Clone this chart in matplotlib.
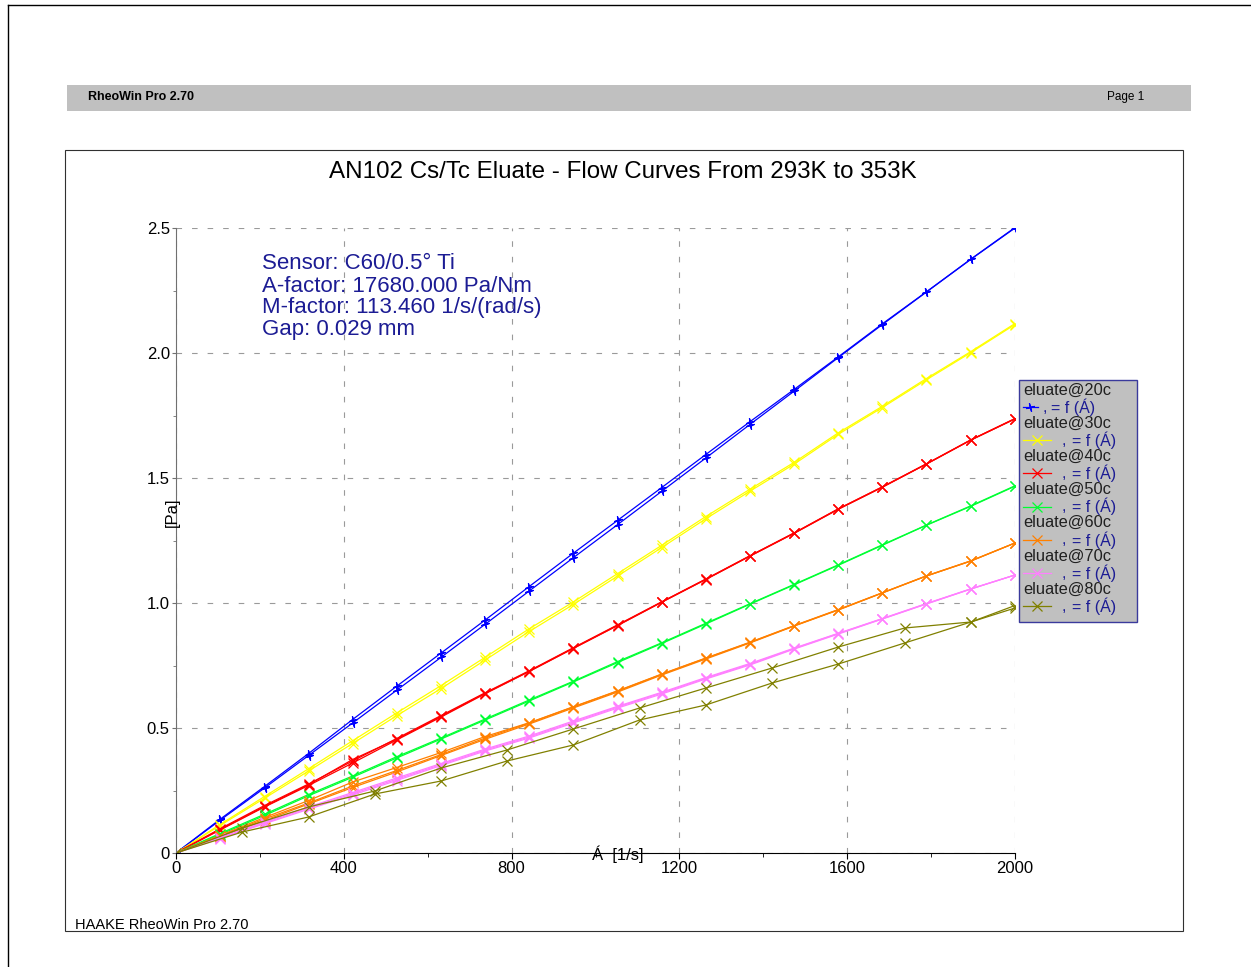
import matplotlib.pyplot as plt
from matplotlib.lines import Line2D
from matplotlib.patches import Rectangle

plt.rcParams['font.family'] = ['Liberation Sans', 'DejaVu Sans']

# shear rate steps [1/s]
rate = [0, 105, 211, 316, 421, 526, 632, 737, 842, 947, 1053, 1158, 1263, 1368,
        1474, 1579, 1684, 1789, 1895, 2000]
rate_80 = [0, 158, 316, 474, 632, 789, 947, 1105, 1263, 1421, 1579, 1737, 1895, 2000]

# shear stress [Pa], ramp up / ramp down (and repeat where present)
s20_up = [0, 0.135, 0.266, 0.398, 0.534, 0.667, 0.800, 0.932, 1.066, 1.199, 1.331,
          1.462, 1.594, 1.725, 1.855, 1.985, 2.117, 2.245, 2.376, 2.502]
s20_dn = [0, 0.131, 0.260, 0.390, 0.520, 0.651, 0.783, 0.915, 1.048, 1.181, 1.314,
          1.447, 1.580, 1.714, 1.848, 1.982, 2.114, 2.244, 2.375, 2.500]

s30_up = [0, 0.114, 0.226, 0.337, 0.449, 0.560, 0.670, 0.783, 0.897, 1.004, 1.118,
          1.231, 1.346, 1.455, 1.563, 1.681, 1.787, 1.898, 2.006, 2.118]
s30_dn = [0, 0.110, 0.219, 0.328, 0.438, 0.549, 0.658, 0.772, 0.886, 0.994, 1.108,
          1.222, 1.337, 1.447, 1.556, 1.675, 1.782, 1.893, 2.002, 2.114]

s40_up = [0, 0.097, 0.190, 0.276, 0.368, 0.458, 0.550, 0.641, 0.729, 0.821, 0.913,
          1.005, 1.096, 1.189, 1.281, 1.377, 1.465, 1.557, 1.653, 1.738]
s40_dn = [0, 0.092, 0.184, 0.270, 0.360, 0.452, 0.544, 0.637, 0.726, 0.818, 0.910,
          1.003, 1.094, 1.187, 1.279, 1.375, 1.463, 1.556, 1.652, 1.736]
s40_rp = [0, 0.094, 0.186, 0.273, 0.374, 0.455, 0.547, 0.639, 0.727, 0.819, 0.911,
          1.004, 1.095, 1.188, 1.280, 1.376, 1.464, 1.556, 1.652, 1.737]

s50_up = [0, 0.078, 0.155, 0.234, 0.308, 0.385, 0.460, 0.536, 0.612, 0.687, 0.766,
          0.841, 0.919, 0.997, 1.075, 1.153, 1.233, 1.312, 1.389, 1.469]
s50_dn = [0, 0.074, 0.150, 0.229, 0.303, 0.380, 0.456, 0.532, 0.608, 0.684, 0.762,
          0.838, 0.916, 0.995, 1.073, 1.151, 1.231, 1.311, 1.387, 1.467]

s60_up = [0, 0.070, 0.142, 0.210, 0.284, 0.342, 0.402, 0.466, 0.521, 0.585, 0.649,
          0.716, 0.780, 0.843, 0.910, 0.974, 1.041, 1.109, 1.169, 1.240]
s60_dn = [0, 0.065, 0.130, 0.196, 0.262, 0.324, 0.390, 0.455, 0.516, 0.580, 0.644,
          0.712, 0.776, 0.840, 0.908, 0.972, 1.040, 1.108, 1.168, 1.240]
s60_rp = [0, 0.068, 0.136, 0.200, 0.268, 0.330, 0.394, 0.460, 0.520, 0.584, 0.648,
          0.715, 0.779, 0.842, 0.909, 0.973, 1.041, 1.108, 1.168, 1.240]

s70_up = [0, 0.062, 0.124, 0.184, 0.242, 0.300, 0.358, 0.416, 0.468, 0.528, 0.587,
          0.643, 0.702, 0.758, 0.820, 0.879, 0.938, 0.998, 1.057, 1.112]
s70_dn = [0, 0.058, 0.117, 0.175, 0.232, 0.290, 0.350, 0.408, 0.460, 0.520, 0.580,
          0.636, 0.696, 0.752, 0.816, 0.876, 0.936, 0.996, 1.056, 1.112]
s70_rp = [0, 0.060, 0.120, 0.180, 0.237, 0.295, 0.354, 0.412, 0.464, 0.524, 0.584,
          0.640, 0.699, 0.755, 0.818, 0.878, 0.937, 0.997, 1.056, 1.112]

s80_up = [0, 0.100, 0.184, 0.248, 0.340, 0.412, 0.496, 0.580, 0.660, 0.740, 0.824,
          0.900, 0.924, 0.990]
s80_dn = [0, 0.084, 0.144, 0.236, 0.288, 0.368, 0.432, 0.532, 0.592, 0.680, 0.756,
          0.840, 0.924, 0.980]

names = ['eluate@20c', 'eluate@30c', 'eluate@40c', 'eluate@50c',
         'eluate@60c', 'eluate@70c', 'eluate@80c']
colors = ['#0000ff', '#ffff00', '#ff0000', '#00ff33', '#ff8000', '#ff80ff', '#808000']

series = [
    (rate, [s20_up, s20_dn]),
    (rate, [s30_up, s30_dn]),
    (rate, [s40_up, s40_dn, s40_rp]),
    (rate, [s50_up, s50_dn]),
    (rate, [s60_up, s60_dn, s60_rp]),
    (rate, [s70_up, s70_dn, s70_rp]),
    (rate_80, [s80_up, s80_dn]),
]

sensor_lines = ['Sensor: C60/0.5° Ti', 'A-factor: 17680.000 Pa/Nm',
                'M-factor: 113.460 1/s/(rad/s)', 'Gap: 0.029 mm']

W, H = 1251, 967
NAVY = '#1c1c94'


def fx(px):
    return px / W


def fy(py):
    return 1 - py / H


fig = plt.figure(figsize=(W / 100, H / 100), dpi=100)

# page frame and report header
fig.add_artist(Line2D([fx(8), fx(8)], [fy(5), 0], color='black', lw=1))
fig.add_artist(Line2D([fx(8), 1], [fy(5), fy(5)], color='black', lw=1))
fig.add_artist(Rectangle((fx(67), fy(111)), fx(1191) - fx(67), fy(85) - fy(111),
                         transform=fig.transFigure, facecolor='#c0c0c0',
                         edgecolor='none'))
fig.text(fx(88), fy(97), 'RheoWin Pro 2.70', fontsize=9, fontweight='bold',
         va='center')
fig.text(fx(1107), fy(97), 'Page 1', fontsize=8.5, va='center')

# chart frame
fig.add_artist(Rectangle((fx(65), fy(931)), fx(1183) - fx(65), fy(150) - fy(931),
                         transform=fig.transFigure, fill=False,
                         edgecolor='#303030', lw=0.8))
fig.text(fx(623), fy(172), 'AN102 Cs/Tc Eluate - Flow Curves From 293K to 353K',
         fontsize=17.4, ha='center', va='center')
fig.text(fx(75), fy(929), 'HAAKE RheoWin Pro 2.70', fontsize=10.5, va='baseline')

ax = fig.add_axes([fx(176), fy(853), fx(1015) - fx(176), fy(228) - fy(853)])

for i, (x, curves) in enumerate(series):
    if i == 0:
        mk, ms = (4, 2, 15), 6
    else:
        mk, ms = 'x', 7.5
    for y in curves:
        ax.plot(x, y, color=colors[i], lw=0.9, marker=mk, ms=ms, mew=0.9)

ax.set_xlim(0, 2000)
ax.set_ylim(0, 2.5)
ax.set_xticks([0, 400, 800, 1200, 1600, 2000])
ax.set_xticks(range(200, 2000, 400), minor=True)
ax.set_yticks([0, 0.5, 1.0, 1.5, 2.0, 2.5],
              labels=['0', '0.5', '1.0', '1.5', '2.0', '2.5'])
ax.set_yticks([0.25, 0.75, 1.25, 1.75, 2.25], minor=True)
ax.grid(which='major', color='#9a9a9a', lw=0.8, linestyle=(0, (5, 9)))
ax.set_axisbelow(True)

for side in ('top', 'right'):
    ax.spines[side].set_visible(False)
ax.spines['left'].set_color('#707070')
ax.spines['bottom'].set_color('black')
ax.tick_params(axis='x', which='major', length=4, pad=1.5, labelsize=12)
ax.tick_params(axis='x', which='minor', length=3)
ax.tick_params(axis='y', which='major', length=3, pad=1.5, labelsize=12,
               color='#707070')
ax.tick_params(axis='y', which='minor', length=2, color='#707070')

fig.text(fx(618), fy(854), 'Á  [1/s]', fontsize=12, ha='center', va='center')
fig.text(fx(172.5), fy(512), '[Pa]', fontsize=12, rotation=90,
         ha='center', va='center')

for k, line in enumerate(sensor_lines):
    fig.text(fx(262), fy(264 + 22 * k), line, fontsize=16, color=NAVY, va='center')

# legend panel
fig.add_artist(Rectangle((fx(1019), fy(622)), fx(1137) - fx(1019), fy(380) - fy(622),
                         transform=fig.transFigure, facecolor='#c0c0c0',
                         edgecolor='#3a3a9c', lw=1, zorder=5))
for i, name in enumerate(names):
    yn = 390 + 33.2 * i
    ys = 407 + 33.2 * i
    fig.text(fx(1023), fy(yn), name, fontsize=11.8, color='#202020',
             va='center', zorder=6)
    if i == 0:
        x0, x1, xm, xc, xf = 1023, 1038, 1030, 1043, 1051
        mk, ms = (4, 2, 15), 6
    else:
        x0, x1, xm, xc, xf = 1023, 1051, 1037, 1062, 1072
        mk, ms = 'x', 7.5
    fig.add_artist(Line2D([fx(x0), fx(x1)], [fy(ys), fy(ys)], color=colors[i],
                          lw=0.9, zorder=6))
    fig.add_artist(Line2D([fx(xm)], [fy(ys)], color=colors[i], marker=mk, ms=ms,
                          mew=0.9, lw=0, zorder=6))
    fig.text(fx(xc), fy(ys), ',', fontsize=11.5, color=NAVY, va='center', zorder=6)
    fig.text(fx(xf), fy(ys), '= f (Á)', fontsize=11.5, color=NAVY, va='center',
             zorder=6)

fig.savefig('out.png', dpi=100)
